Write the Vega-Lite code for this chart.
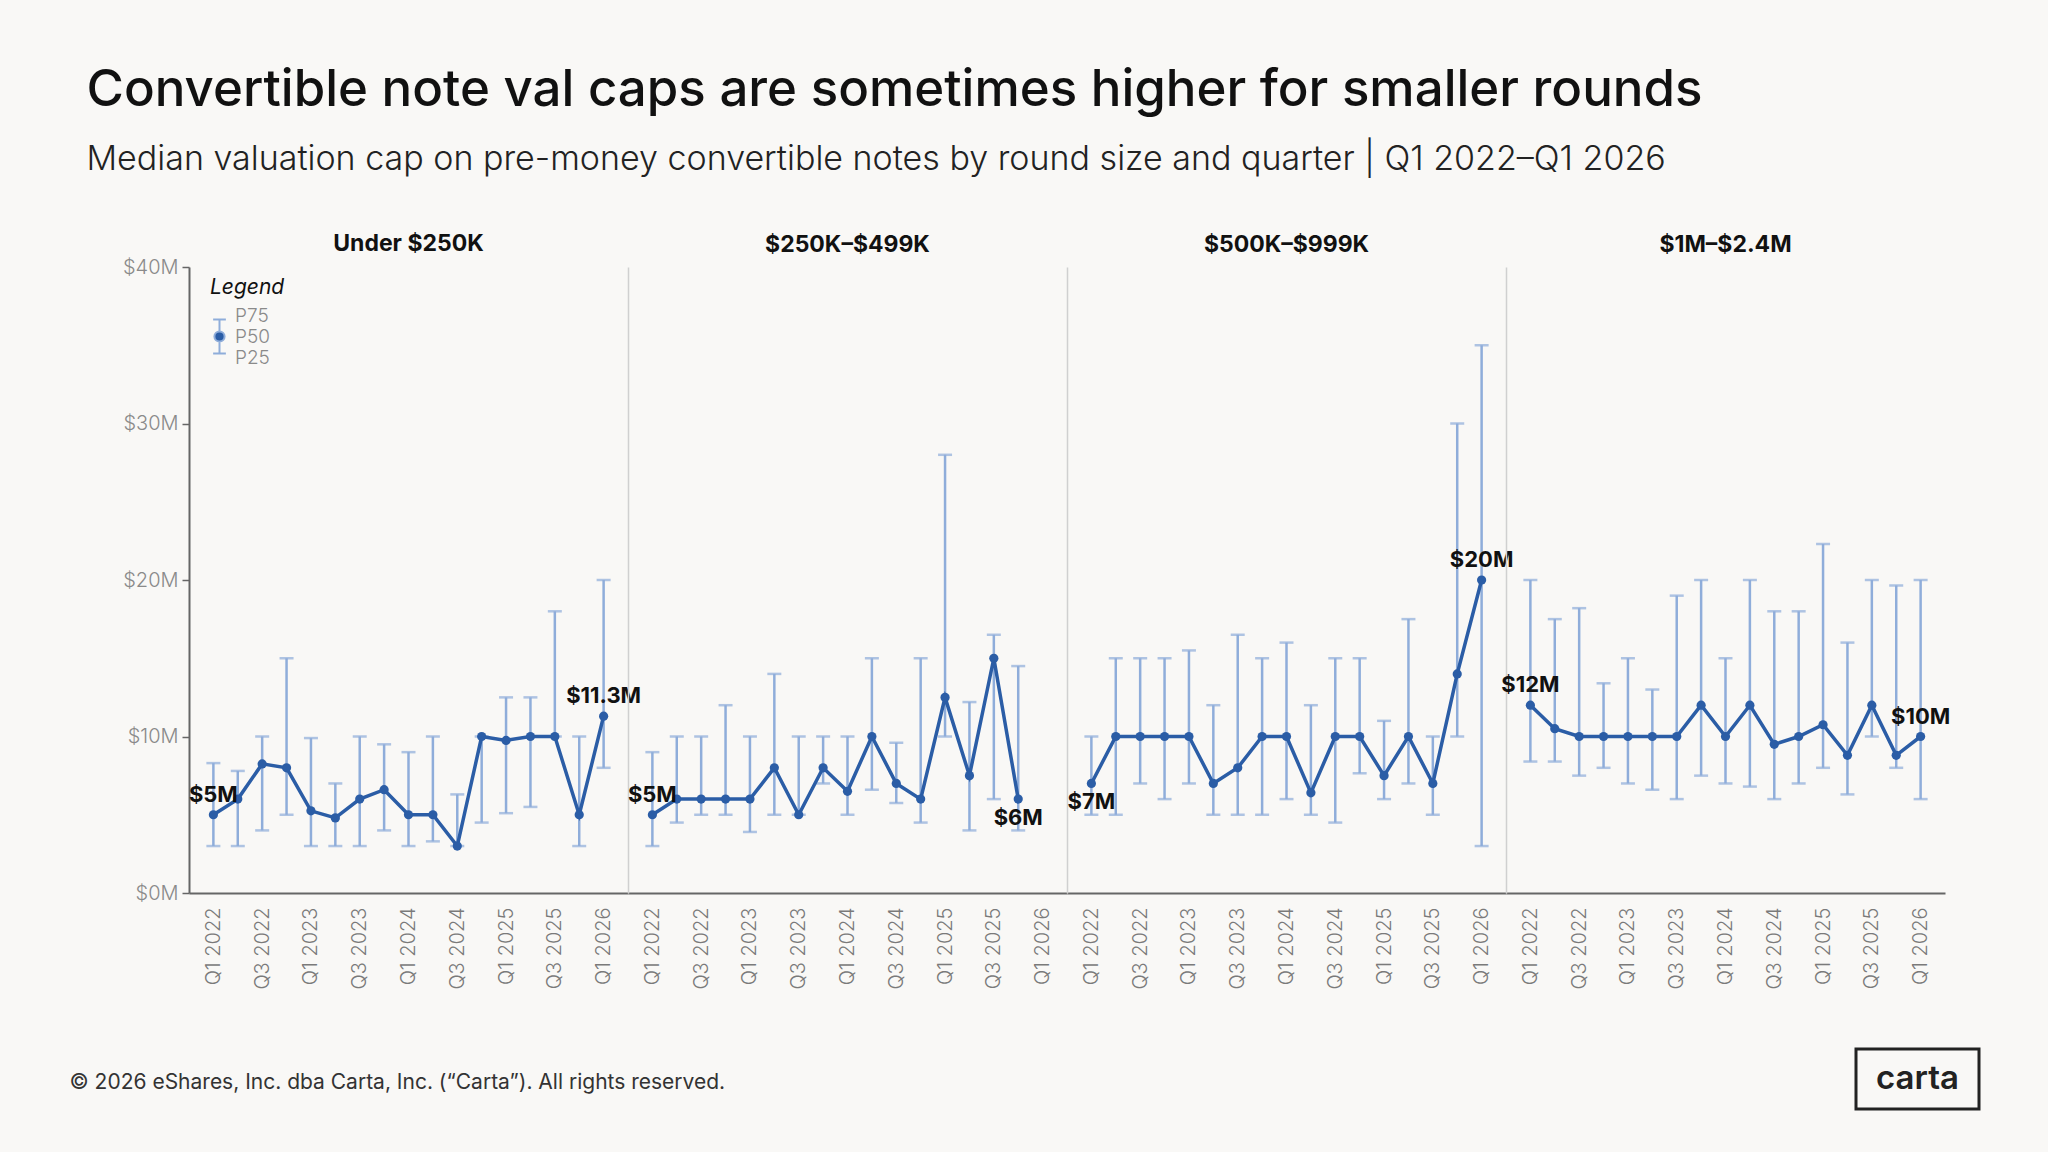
{
  "$schema": "https://vega.github.io/schema/vega-lite/v6.json",
  "background": "#F9F8F6",
  "padding": {"left": 69, "top": 65, "right": 69, "bottom": 42},
  "title": {
    "text": "Convertible note val caps are sometimes higher for smaller rounds",
    "subtitle": "Median valuation cap on pre-money convertible notes by round size and quarter | Q1 2022–Q1 2026",
    "anchor": "start",
    "frame": "bounds",
    "dx": 17,
    "fontSize": 51,
    "fontWeight": 500,
    "color": "#111111",
    "subtitleFontSize": 34,
    "subtitleFontWeight": 300,
    "subtitleColor": "#222222",
    "subtitlePadding": 26,
    "offset": 55
  },
  "datasets": {
    "caps": [
      {"panel": "Under $250K", "quarter": "Q1 2022", "P25": 3000000, "P50": 5000000, "P75": 8300000},
      {"panel": "Under $250K", "quarter": "Q2 2022", "P25": 3000000, "P50": 6000000, "P75": 7800000},
      {"panel": "Under $250K", "quarter": "Q3 2022", "P25": 4000000, "P50": 8250000, "P75": 10000000},
      {"panel": "Under $250K", "quarter": "Q4 2022", "P25": 5000000, "P50": 8000000, "P75": 15000000},
      {"panel": "Under $250K", "quarter": "Q1 2023", "P25": 3000000, "P50": 5250000, "P75": 9900000},
      {"panel": "Under $250K", "quarter": "Q2 2023", "P25": 3000000, "P50": 4800000, "P75": 7000000},
      {"panel": "Under $250K", "quarter": "Q3 2023", "P25": 3000000, "P50": 6000000, "P75": 10000000},
      {"panel": "Under $250K", "quarter": "Q4 2023", "P25": 4000000, "P50": 6600000, "P75": 9500000},
      {"panel": "Under $250K", "quarter": "Q1 2024", "P25": 3000000, "P50": 5000000, "P75": 9000000},
      {"panel": "Under $250K", "quarter": "Q2 2024", "P25": 3300000, "P50": 5000000, "P75": 10000000},
      {"panel": "Under $250K", "quarter": "Q3 2024", "P25": 3000000, "P50": 3000000, "P75": 6300000},
      {"panel": "Under $250K", "quarter": "Q4 2024", "P25": 4500000, "P50": 10000000, "P75": 10000000},
      {"panel": "Under $250K", "quarter": "Q1 2025", "P25": 5100000, "P50": 9750000, "P75": 12500000},
      {"panel": "Under $250K", "quarter": "Q2 2025", "P25": 5500000, "P50": 10000000, "P75": 12500000},
      {"panel": "Under $250K", "quarter": "Q3 2025", "P25": 10000000, "P50": 10000000, "P75": 18000000},
      {"panel": "Under $250K", "quarter": "Q4 2025", "P25": 3000000, "P50": 5000000, "P75": 10000000},
      {"panel": "Under $250K", "quarter": "Q1 2026", "P25": 8000000, "P50": 11300000, "P75": 20000000},

      {"panel": "$250K–$499K", "quarter": "Q1 2022", "P25": 3000000, "P50": 5000000, "P75": 9000000},
      {"panel": "$250K–$499K", "quarter": "Q2 2022", "P25": 4500000, "P50": 6000000, "P75": 10000000},
      {"panel": "$250K–$499K", "quarter": "Q3 2022", "P25": 5000000, "P50": 6000000, "P75": 10000000},
      {"panel": "$250K–$499K", "quarter": "Q4 2022", "P25": 5000000, "P50": 6000000, "P75": 12000000},
      {"panel": "$250K–$499K", "quarter": "Q1 2023", "P25": 3900000, "P50": 6000000, "P75": 10000000},
      {"panel": "$250K–$499K", "quarter": "Q2 2023", "P25": 5000000, "P50": 8000000, "P75": 14000000},
      {"panel": "$250K–$499K", "quarter": "Q3 2023", "P25": 5000000, "P50": 5000000, "P75": 10000000},
      {"panel": "$250K–$499K", "quarter": "Q4 2023", "P25": 7000000, "P50": 8000000, "P75": 10000000},
      {"panel": "$250K–$499K", "quarter": "Q1 2024", "P25": 5000000, "P50": 6500000, "P75": 10000000},
      {"panel": "$250K–$499K", "quarter": "Q2 2024", "P25": 6600000, "P50": 10000000, "P75": 15000000},
      {"panel": "$250K–$499K", "quarter": "Q3 2024", "P25": 5750000, "P50": 7000000, "P75": 9600000},
      {"panel": "$250K–$499K", "quarter": "Q4 2024", "P25": 4500000, "P50": 6000000, "P75": 15000000},
      {"panel": "$250K–$499K", "quarter": "Q1 2025", "P25": 10000000, "P50": 12500000, "P75": 28000000},
      {"panel": "$250K–$499K", "quarter": "Q2 2025", "P25": 4000000, "P50": 7500000, "P75": 12200000},
      {"panel": "$250K–$499K", "quarter": "Q3 2025", "P25": 6000000, "P50": 15000000, "P75": 16500000},
      {"panel": "$250K–$499K", "quarter": "Q4 2025", "P25": 4000000, "P50": 6000000, "P75": 14500000},

      {"panel": "$500K–$999K", "quarter": "Q1 2022", "P25": 5000000, "P50": 7000000, "P75": 10000000},
      {"panel": "$500K–$999K", "quarter": "Q2 2022", "P25": 5000000, "P50": 10000000, "P75": 15000000},
      {"panel": "$500K–$999K", "quarter": "Q3 2022", "P25": 7000000, "P50": 10000000, "P75": 15000000},
      {"panel": "$500K–$999K", "quarter": "Q4 2022", "P25": 6000000, "P50": 10000000, "P75": 15000000},
      {"panel": "$500K–$999K", "quarter": "Q1 2023", "P25": 7000000, "P50": 10000000, "P75": 15500000},
      {"panel": "$500K–$999K", "quarter": "Q2 2023", "P25": 5000000, "P50": 7000000, "P75": 12000000},
      {"panel": "$500K–$999K", "quarter": "Q3 2023", "P25": 5000000, "P50": 8000000, "P75": 16500000},
      {"panel": "$500K–$999K", "quarter": "Q4 2023", "P25": 5000000, "P50": 10000000, "P75": 15000000},
      {"panel": "$500K–$999K", "quarter": "Q1 2024", "P25": 6000000, "P50": 10000000, "P75": 16000000},
      {"panel": "$500K–$999K", "quarter": "Q2 2024", "P25": 5000000, "P50": 6400000, "P75": 12000000},
      {"panel": "$500K–$999K", "quarter": "Q3 2024", "P25": 4500000, "P50": 10000000, "P75": 15000000},
      {"panel": "$500K–$999K", "quarter": "Q4 2024", "P25": 7650000, "P50": 10000000, "P75": 15000000},
      {"panel": "$500K–$999K", "quarter": "Q1 2025", "P25": 6000000, "P50": 7500000, "P75": 11000000},
      {"panel": "$500K–$999K", "quarter": "Q2 2025", "P25": 7000000, "P50": 10000000, "P75": 17500000},
      {"panel": "$500K–$999K", "quarter": "Q3 2025", "P25": 5000000, "P50": 7000000, "P75": 10000000},
      {"panel": "$500K–$999K", "quarter": "Q4 2025", "P25": 10000000, "P50": 14000000, "P75": 30000000},
      {"panel": "$500K–$999K", "quarter": "Q1 2026", "P25": 3000000, "P50": 20000000, "P75": 35000000},

      {"panel": "$1M–$2.4M", "quarter": "Q1 2022", "P25": 8400000, "P50": 12000000, "P75": 20000000},
      {"panel": "$1M–$2.4M", "quarter": "Q2 2022", "P25": 8400000, "P50": 10500000, "P75": 17500000},
      {"panel": "$1M–$2.4M", "quarter": "Q3 2022", "P25": 7500000, "P50": 10000000, "P75": 18200000},
      {"panel": "$1M–$2.4M", "quarter": "Q4 2022", "P25": 8000000, "P50": 10000000, "P75": 13400000},
      {"panel": "$1M–$2.4M", "quarter": "Q1 2023", "P25": 7000000, "P50": 10000000, "P75": 15000000},
      {"panel": "$1M–$2.4M", "quarter": "Q2 2023", "P25": 6600000, "P50": 10000000, "P75": 13000000},
      {"panel": "$1M–$2.4M", "quarter": "Q3 2023", "P25": 6000000, "P50": 10000000, "P75": 19000000},
      {"panel": "$1M–$2.4M", "quarter": "Q4 2023", "P25": 7500000, "P50": 12000000, "P75": 20000000},
      {"panel": "$1M–$2.4M", "quarter": "Q1 2024", "P25": 7000000, "P50": 10000000, "P75": 15000000},
      {"panel": "$1M–$2.4M", "quarter": "Q2 2024", "P25": 6800000, "P50": 12000000, "P75": 20000000},
      {"panel": "$1M–$2.4M", "quarter": "Q3 2024", "P25": 6000000, "P50": 9500000, "P75": 18000000},
      {"panel": "$1M–$2.4M", "quarter": "Q4 2024", "P25": 7000000, "P50": 10000000, "P75": 18000000},
      {"panel": "$1M–$2.4M", "quarter": "Q1 2025", "P25": 8000000, "P50": 10750000, "P75": 22300000},
      {"panel": "$1M–$2.4M", "quarter": "Q2 2025", "P25": 6300000, "P50": 8800000, "P75": 16000000},
      {"panel": "$1M–$2.4M", "quarter": "Q3 2025", "P25": 10000000, "P50": 12000000, "P75": 20000000},
      {"panel": "$1M–$2.4M", "quarter": "Q4 2025", "P25": 8000000, "P50": 8800000, "P75": 19650000},
      {"panel": "$1M–$2.4M", "quarter": "Q1 2026", "P25": 6000000, "P50": 10000000, "P75": 20000000}
    ]
  },
  "vconcat": [
    {
      "spacing": 0,
      "bounds": "flush",
      "hconcat": [
        {
          "width": 439, "height": 626,
          "title": {"text": "Under $250K", "offset": 1},
          "data": {"name": "caps"},
          "transform": [{"filter": "datum.panel == 'Under $250K'"}],
          "encoding": {
            "x": {"field": "quarter", "type": "ordinal", "title": null,
              "scale": {"type": "point", "padding": 1, "domain": ["Q1 2022","Q2 2022","Q3 2022","Q4 2022","Q1 2023","Q2 2023","Q3 2023","Q4 2023","Q1 2024","Q2 2024","Q3 2024","Q4 2024","Q1 2025","Q2 2025","Q3 2025","Q4 2025","Q1 2026"]},
              "axis": {"values": ["Q1 2022","Q3 2022","Q1 2023","Q3 2023","Q1 2024","Q3 2024","Q1 2025","Q3 2025","Q1 2026"]}}
          },
          "layer": [
            {"mark": {"type": "rule", "color": "#8FADDA", "strokeWidth": 2.5},
             "encoding": {
               "y": {"field": "P25", "type": "quantitative", "title": null, "scale": {"domain": [0, 40000000]},
                 "axis": {"values": [0, 10000000, 20000000, 30000000, 40000000], "labelExpr": "'$' + (datum.value / 1000000) + 'M'", "tickSize": 7, "tickColor": "#666666", "tickWidth": 1.5, "domainColor": "#666666", "domainWidth": 2, "labelColor": "#8a8a8a", "labelFontSize": 20, "labelFontWeight": 300, "labelPadding": 4}},
               "y2": {"field": "P75"}}},
            {"mark": {"type": "tick", "color": "#8FADDA", "thickness": 2.5, "size": 14},
             "encoding": {"y": {"field": "P75", "type": "quantitative", "title": null}}},
            {"mark": {"type": "tick", "color": "#8FADDA", "thickness": 2.5, "size": 14},
             "encoding": {"y": {"field": "P25", "type": "quantitative", "title": null}}},
            {"mark": {"type": "point", "opacity": 0, "filled": false, "strokeWidth": 2, "size": 289},
             "encoding": {
               "y": {"field": "P50", "type": "quantitative", "title": null},
               "shape": {"datum": "P50", "type": "nominal", "title": "Legend",
                 "scale": {"range": ["M-0.75,0.47H0.75M0,0.47V1.85M0,3.09V4.47M-0.75,4.47H0.75M-0.6,2.47A0.6,0.6,0,1,1,0.6,2.47A0.6,0.6,0,1,1,-0.6,2.47Z"]},
                 "legend": {"orient": "none", "legendX": 21, "legendY": 10, "labelExpr": "['P75', 'P50', 'P25']"}},
               "stroke": {"datum": "P50", "type": "nominal", "title": "Legend",
                 "scale": {"range": ["#8FADDA"]},
                 "legend": {"orient": "none", "legendX": 21, "legendY": 10, "labelExpr": "['P75', 'P50', 'P25']"}},
               "fill": {"datum": "P50", "type": "nominal", "title": "Legend",
                 "scale": {"range": ["#2B5DA6"]},
                 "legend": {"orient": "none", "legendX": 21, "legendY": 10, "labelExpr": "['P75', 'P50', 'P25']"}}
             }},
            {"mark": {"type": "line", "color": "#2B5DA6", "strokeWidth": 3.5},
             "encoding": {"y": {"field": "P50", "type": "quantitative", "title": null}, "order": {"value": null}}},
            {"mark": {"type": "point", "filled": true, "color": "#2B5DA6", "size": 85, "opacity": 1},
             "encoding": {"y": {"field": "P50", "type": "quantitative", "title": null}}},
            {"transform": [{"filter": "datum.quarter == 'Q1 2022' || datum.quarter == 'Q1 2026'"}],
             "mark": {"type": "text", "baseline": "alphabetic", "dy": -13, "fontSize": 22, "fontWeight": "bold", "color": "#111111"},
             "encoding": {"y": {"field": "P50", "type": "quantitative", "title": null}, "text": {"field": "P50", "type": "quantitative", "format": "$.3~s"}}}
          ]
        },
        {
          "width": 439, "height": 626,
          "title": {"text": "$250K–$499K"},
          "data": {"name": "caps"},
          "transform": [{"filter": "datum.panel == '$250K–$499K'"}],
          "encoding": {
            "x": {"field": "quarter", "type": "ordinal", "title": null,
              "scale": {"type": "point", "padding": 1, "domain": ["Q1 2022","Q2 2022","Q3 2022","Q4 2022","Q1 2023","Q2 2023","Q3 2023","Q4 2023","Q1 2024","Q2 2024","Q3 2024","Q4 2024","Q1 2025","Q2 2025","Q3 2025","Q4 2025","Q1 2026"]},
              "axis": {"values": ["Q1 2022","Q3 2022","Q1 2023","Q3 2023","Q1 2024","Q3 2024","Q1 2025","Q3 2025","Q1 2026"]}}
          },
          "layer": [
            {"mark": {"type": "rule", "color": "#8FADDA", "strokeWidth": 2.5},
             "encoding": {
               "y": {"field": "P25", "type": "quantitative", "title": null, "scale": {"domain": [0, 40000000]},
                 "axis": {"labels": false, "ticks": false, "minExtent": 0, "domainColor": "#D0D0D0", "domainWidth": 1.5}},
               "y2": {"field": "P75"}}},
            {"mark": {"type": "tick", "color": "#8FADDA", "thickness": 2.5, "size": 14},
             "encoding": {"y": {"field": "P75", "type": "quantitative", "title": null}}},
            {"mark": {"type": "tick", "color": "#8FADDA", "thickness": 2.5, "size": 14},
             "encoding": {"y": {"field": "P25", "type": "quantitative", "title": null}}},
            {"mark": {"type": "line", "color": "#2B5DA6", "strokeWidth": 3.5},
             "encoding": {"y": {"field": "P50", "type": "quantitative", "title": null}, "order": {"value": null}}},
            {"mark": {"type": "point", "filled": true, "color": "#2B5DA6", "size": 85, "opacity": 1},
             "encoding": {"y": {"field": "P50", "type": "quantitative", "title": null}}},
            {"transform": [{"filter": "datum.quarter == 'Q1 2022'"}],
             "mark": {"type": "text", "baseline": "alphabetic", "dy": -13, "fontSize": 22, "fontWeight": "bold", "color": "#111111"},
             "encoding": {"y": {"field": "P50", "type": "quantitative", "title": null}, "text": {"field": "P50", "type": "quantitative", "format": "$.3~s"}}},
            {"transform": [{"filter": "datum.quarter == 'Q4 2025'"}],
             "mark": {"type": "text", "baseline": "top", "dy": 9, "fontSize": 22, "fontWeight": "bold", "color": "#111111"},
             "encoding": {"y": {"field": "P50", "type": "quantitative", "title": null}, "text": {"field": "P50", "type": "quantitative", "format": "$.3~s"}}}
          ]
        },
        {
          "width": 439, "height": 626,
          "title": {"text": "$500K–$999K"},
          "data": {"name": "caps"},
          "transform": [{"filter": "datum.panel == '$500K–$999K'"}],
          "encoding": {
            "x": {"field": "quarter", "type": "ordinal", "title": null,
              "scale": {"type": "point", "padding": 1, "domain": ["Q1 2022","Q2 2022","Q3 2022","Q4 2022","Q1 2023","Q2 2023","Q3 2023","Q4 2023","Q1 2024","Q2 2024","Q3 2024","Q4 2024","Q1 2025","Q2 2025","Q3 2025","Q4 2025","Q1 2026"]},
              "axis": {"values": ["Q1 2022","Q3 2022","Q1 2023","Q3 2023","Q1 2024","Q3 2024","Q1 2025","Q3 2025","Q1 2026"]}}
          },
          "layer": [
            {"mark": {"type": "rule", "color": "#8FADDA", "strokeWidth": 2.5},
             "encoding": {
               "y": {"field": "P25", "type": "quantitative", "title": null, "scale": {"domain": [0, 40000000]},
                 "axis": {"labels": false, "ticks": false, "minExtent": 0, "domainColor": "#D0D0D0", "domainWidth": 1.5}},
               "y2": {"field": "P75"}}},
            {"mark": {"type": "tick", "color": "#8FADDA", "thickness": 2.5, "size": 14},
             "encoding": {"y": {"field": "P75", "type": "quantitative", "title": null}}},
            {"mark": {"type": "tick", "color": "#8FADDA", "thickness": 2.5, "size": 14},
             "encoding": {"y": {"field": "P25", "type": "quantitative", "title": null}}},
            {"mark": {"type": "line", "color": "#2B5DA6", "strokeWidth": 3.5},
             "encoding": {"y": {"field": "P50", "type": "quantitative", "title": null}, "order": {"value": null}}},
            {"mark": {"type": "point", "filled": true, "color": "#2B5DA6", "size": 85, "opacity": 1},
             "encoding": {"y": {"field": "P50", "type": "quantitative", "title": null}}},
            {"transform": [{"filter": "datum.quarter == 'Q1 2026'"}],
             "mark": {"type": "text", "baseline": "alphabetic", "dy": -13, "fontSize": 22, "fontWeight": "bold", "color": "#111111"},
             "encoding": {"y": {"field": "P50", "type": "quantitative", "title": null}, "text": {"field": "P50", "type": "quantitative", "format": "$.3~s"}}},
            {"transform": [{"filter": "datum.quarter == 'Q1 2022'"}],
             "mark": {"type": "text", "baseline": "top", "dy": 9, "fontSize": 22, "fontWeight": "bold", "color": "#111111"},
             "encoding": {"y": {"field": "P50", "type": "quantitative", "title": null}, "text": {"field": "P50", "type": "quantitative", "format": "$.3~s"}}}
          ]
        },
        {
          "width": 439, "height": 626,
          "title": {"text": "$1M–$2.4M"},
          "data": {"name": "caps"},
          "transform": [{"filter": "datum.panel == '$1M–$2.4M'"}],
          "encoding": {
            "x": {"field": "quarter", "type": "ordinal", "title": null,
              "scale": {"type": "point", "padding": 1, "domain": ["Q1 2022","Q2 2022","Q3 2022","Q4 2022","Q1 2023","Q2 2023","Q3 2023","Q4 2023","Q1 2024","Q2 2024","Q3 2024","Q4 2024","Q1 2025","Q2 2025","Q3 2025","Q4 2025","Q1 2026"]},
              "axis": {"values": ["Q1 2022","Q3 2022","Q1 2023","Q3 2023","Q1 2024","Q3 2024","Q1 2025","Q3 2025","Q1 2026"]}}
          },
          "layer": [
            {"mark": {"type": "rule", "color": "#8FADDA", "strokeWidth": 2.5},
             "encoding": {
               "y": {"field": "P25", "type": "quantitative", "title": null, "scale": {"domain": [0, 40000000]},
                 "axis": {"labels": false, "ticks": false, "minExtent": 0, "domainColor": "#D0D0D0", "domainWidth": 1.5}},
               "y2": {"field": "P75"}}},
            {"mark": {"type": "tick", "color": "#8FADDA", "thickness": 2.5, "size": 14},
             "encoding": {"y": {"field": "P75", "type": "quantitative", "title": null}}},
            {"mark": {"type": "tick", "color": "#8FADDA", "thickness": 2.5, "size": 14},
             "encoding": {"y": {"field": "P25", "type": "quantitative", "title": null}}},
            {"mark": {"type": "line", "color": "#2B5DA6", "strokeWidth": 3.5},
             "encoding": {"y": {"field": "P50", "type": "quantitative", "title": null}, "order": {"value": null}}},
            {"mark": {"type": "point", "filled": true, "color": "#2B5DA6", "size": 85, "opacity": 1},
             "encoding": {"y": {"field": "P50", "type": "quantitative", "title": null}}},
            {"transform": [{"filter": "datum.quarter == 'Q1 2022' || datum.quarter == 'Q1 2026'"}],
             "mark": {"type": "text", "baseline": "alphabetic", "dy": -13, "fontSize": 22, "fontWeight": "bold", "color": "#111111"},
             "encoding": {"y": {"field": "P50", "type": "quantitative", "title": null}, "text": {"field": "P50", "type": "quantitative", "format": "$.3~s"}}}
          ]
        }
      ]
    },
    {
      "spacing": 1666,
      "bounds": "flush",
      "hconcat": [
        {
          "width": 1, "height": 60,
          "data": {"values": [{"note": "© 2026 eShares, Inc. dba Carta, Inc. (“Carta”). All rights reserved."}]},
          "mark": {"type": "text", "align": "left", "baseline": "middle", "fontSize": 21, "color": "#333333", "dx": -120, "dy": 4},
          "encoding": {"text": {"field": "note", "type": "nominal"}}
        },
        {
          "width": 123, "height": 60,
          "view": {"stroke": "#222222", "strokeWidth": 3},
          "data": {"values": [{"brand": "carta"}]},
          "mark": {"type": "text", "align": "center", "baseline": "middle", "fontSize": 33, "fontWeight": 600, "color": "#222222"},
          "encoding": {"text": {"field": "brand", "type": "nominal"}}
        }
      ]
    }
  ],
  "spacing": 57,
  "config": {
    "font": "Inter",
    "view": {"stroke": null},
    "title": {"fontSize": 23, "fontWeight": 700, "color": "#111111", "offset": 10, "anchor": "middle"},
    "axis": {"grid": false},
    "axisX": {"labelAngle": 270, "ticks": false, "labelPadding": 14, "domainColor": "#666666", "domainWidth": 2, "labelColor": "#7a7a7a", "labelFontSize": 20, "labelFontWeight": 300},
    "legend": {
      "titleFontStyle": "italic", "titleFontSize": 21, "titleFontWeight": "normal", "titleColor": "#111111", "titlePadding": 8,
      "labelFontSize": 19, "labelColor": "#8a8a8a", "labelFontWeight": 300, "labelOffset": 6,
      "symbolSize": 289, "symbolStrokeWidth": 2, "padding": 0, "symbolOpacity": 1
    }
  }
}
